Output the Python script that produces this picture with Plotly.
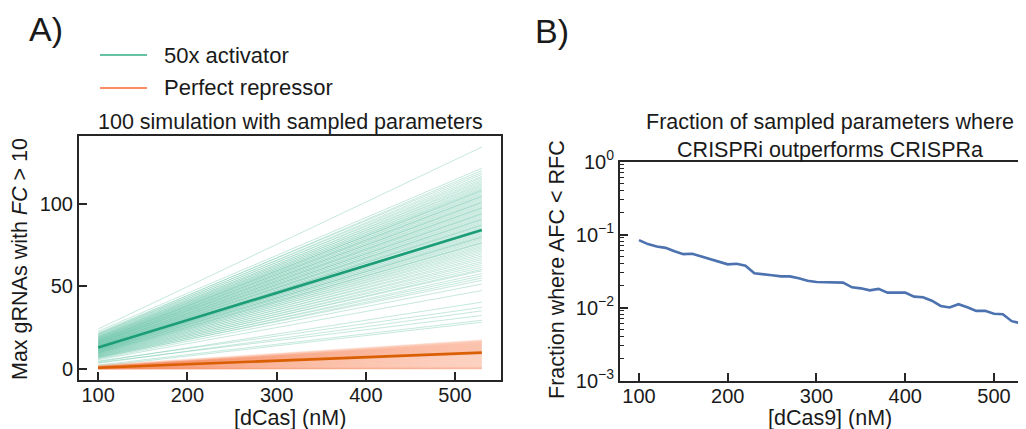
import plotly.graph_objects as go

# The page places the figure 8 px from the window's top-left corner,
# so the figure is sized to fill the rest of the 1026x429 window.
WIN_W, WIN_H = 1026, 429
OFF = 8
W, H = WIN_W - OFF, WIN_H - OFF

# ---------------- data ----------------
dcas_ends = [100, 530]

act_start = [24.2, 22.9, 21.4, 22.0, 20.8, 21.2, 20.1, 20.6, 19.5, 19.9,
             19.0, 19.6, 18.6, 19.1, 18.2, 18.8, 17.9, 18.4, 17.5, 18.0,
             17.2, 17.7, 16.8, 17.3, 16.5, 16.9, 16.1, 16.6, 15.8, 16.2,
             15.5, 15.9, 15.1, 15.6, 14.8, 15.2, 14.5, 14.9, 14.1, 14.6,
             13.8, 14.2, 13.5, 13.9, 13.1, 13.6, 12.8, 13.2, 12.5, 12.9,
             12.1, 12.6, 11.8, 12.2, 11.5, 11.9, 11.1, 11.6, 10.8, 11.2,
             10.4, 10.9, 10.0, 10.5, 9.6, 10.1, 9.3, 9.8, 8.9, 9.4,
             8.5, 9.0, 8.1, 8.6, 7.7, 8.2, 7.3, 7.7, 6.9, 7.4,
             6.5, 6.9, 6.1, 5.6, 4.3, 4.8, 3.4, 3.9, 2.3, 1.6,
             17.0, 16.0, 15.4, 14.4, 13.8, 13.0, 12.3, 11.4, 10.7, 9.9]
act_end = [134.5, 121.6, 120.3, 119.1, 118.0, 116.8, 115.9, 114.9, 114.0, 113.2,
           112.3, 111.6, 110.8, 110.0, 109.3, 108.6, 107.8, 107.1, 106.4, 105.7,
           105.0, 104.3, 103.6, 102.9, 102.2, 101.5, 100.8, 100.1, 99.4, 98.7,
           98.0, 97.3, 96.6, 95.9, 95.2, 94.5, 93.8, 93.1, 92.4, 91.7,
           91.0, 90.3, 89.6, 88.9, 88.2, 87.5, 86.8, 86.1, 85.4, 84.7,
           84.0, 83.3, 82.6, 81.9, 81.2, 80.5, 79.8, 79.1, 78.4, 77.6,
           76.8, 76.0, 75.1, 74.2, 73.4, 72.5, 71.6, 70.6, 69.6, 68.5,
           67.4, 66.3, 65.1, 64.0, 62.8, 61.5, 60.3, 59.5, 57.8, 56.4,
           55.1, 53.7, 51.5, 47.5, 40.5, 37.3, 35.2, 32.4, 29.5, 28.3,
           108.2, 104.7, 101.0, 97.6, 94.0, 90.7, 87.2, 83.7, 80.0, 76.4]

rep_start = [2.4, 1.9, 2.1, 1.7, 1.8, 1.6, 1.2, 1.5, 1.3, 1.4,
             1.2, 1.5, 1.3, 1.1, 1.4, 1.2, 1.4, 1.1, 1.3, 1.2,
             1.0, 1.3, 1.1, 1.2, 1.0, 1.3, 1.1, 0.9, 1.2, 1.0,
             1.1, 0.9, 1.2, 1.0, 0.8, 1.1, 0.9, 1.0, 0.8, 1.1,
             0.9, 0.7, 1.0, 0.8, 1.0, 0.7, 0.9, 0.8, 0.6, 0.9,
             0.8, 0.6, 0.9, 0.7, 0.8, 0.6, 0.7, 0.8, 0.5, 0.7,
             0.6, 0.7, 0.5, 0.6, 0.7, 0.5, 0.6, 0.4, 0.6, 0.5,
             0.4, 0.5, 0.4, 0.5, 0.3, 0.4, 0.4, 0.3, 0.4, 0.3,
             0.3, 0.2, 0.3, 0.2, 0.3, 0.2, 0.2, 0.1, 0.2, 0.1,
             0.1, 0.1, 0.1, 0.0, 0.1, 0.0, 0.0, 0.0, 0.0, 0.0]
rep_end = [17.6, 17.3, 17.1, 16.9, 16.7, 16.5, 16.4, 16.2, 16.0, 15.9,
           15.7, 15.6, 15.4, 15.3, 15.1, 15.0, 14.8, 14.7, 14.5, 14.4,
           14.2, 14.1, 13.9, 13.8, 13.6, 13.5, 13.3, 13.2, 13.0, 12.9,
           12.7, 12.6, 12.4, 12.3, 12.1, 12.0, 11.8, 11.7, 11.5, 11.4,
           11.2, 11.1, 10.9, 10.8, 10.6, 10.5, 10.3, 10.2, 10.0, 9.9,
           9.7, 9.5, 9.3, 9.1, 8.9, 8.7, 8.5, 8.3, 8.1, 7.9,
           7.6, 7.4, 7.2, 7.0, 6.8, 6.5, 6.3, 6.1, 5.9, 5.7,
           5.4, 5.2, 5.0, 4.8, 4.6, 4.3, 4.1, 3.9, 3.7, 3.5,
           3.2, 3.0, 2.8, 2.6, 2.4, 2.1, 1.9, 1.7, 1.5, 1.3,
           1.1, 0.9, 0.8, 0.6, 0.5, 0.4, 0.3, 0.2, 0.1, 0.0]

act_mean = [13.0, 84.2]
rep_mean = [0.7, 9.9]

dcas9 = [100, 110, 120, 130, 140, 150, 160, 170, 180, 190,
         200, 210, 220, 230, 240, 250, 260, 270, 280, 290,
         300, 310, 320, 330, 340, 350, 360, 370, 380, 390,
         400, 410, 420, 430, 440, 450, 460, 470, 480, 490,
         500, 510, 520, 530]
fraction = [0.0836, 0.0738, 0.0686, 0.0656, 0.0591, 0.0538, 0.0545, 0.0501, 0.0461, 0.0428,
            0.0390, 0.0397, 0.0373, 0.0294, 0.0288, 0.0276, 0.0267, 0.0267, 0.0251, 0.0233,
            0.0223, 0.0221, 0.0219, 0.0219, 0.0189, 0.0183, 0.0172, 0.0180, 0.0160, 0.0160,
            0.0160, 0.0141, 0.0138, 0.0124, 0.0105, 0.0100, 0.0111, 0.0101, 0.0090, 0.0090,
            0.0082, 0.0081, 0.0065, 0.0061]

legend_labels = ["50x activator", "Perfect repressor"]

# ---------------- styling ----------------
FONT = "Liberation Sans, Arial, sans-serif"
TXT = "#1a1a1a"
SPINE = "#262626"
ACT_LIGHT = "rgba(102,194,165,0.42)"
REP_LIGHT = "rgba(252,141,98,0.19)"
ACT_DARK = "#1b9e77"
REP_DARK = "#d95f02"
ACT_LEG = "#66c2a5"
REP_LEG = "#fc8d62"
BLUE = "#4c72b0"

fig = go.Figure()

for s, e in zip(act_start, act_end):
    fig.add_trace(go.Scatter(x=dcas_ends, y=[s, e], mode="lines",
                             line=dict(color=ACT_LIGHT, width=0.9),
                             showlegend=False, hoverinfo="skip",
                             xaxis="x", yaxis="y"))
for s, e in zip(rep_start, rep_end):
    fig.add_trace(go.Scatter(x=dcas_ends, y=[s, e], mode="lines",
                             line=dict(color=REP_LIGHT, width=0.9),
                             showlegend=False, hoverinfo="skip",
                             xaxis="x", yaxis="y"))

fig.add_trace(go.Scatter(x=dcas_ends, y=act_mean, mode="lines",
                         line=dict(color=ACT_DARK, width=2.6),
                         showlegend=False, xaxis="x", yaxis="y"))
fig.add_trace(go.Scatter(x=dcas_ends, y=rep_mean, mode="lines",
                         line=dict(color=REP_DARK, width=2.6),
                         showlegend=False, xaxis="x", yaxis="y"))

fig.add_trace(go.Scatter(x=dcas9, y=fraction, mode="lines",
                         line=dict(color=BLUE, width=2.6),
                         showlegend=False, xaxis="x2", yaxis="y2"))

def px_x(p):
    # window pixel -> paper fraction
    return (p - OFF) / W

def px_y(p):
    return 1 - (p - OFF) / H

axis_common = dict(showline=True, linecolor=SPINE, linewidth=2, ticks="inside",
                   ticklen=8, tickwidth=1.5, tickcolor=SPINE, showgrid=False,
                   zeroline=False, automargin=False,
                   tickfont=dict(family=FONT, size=20, color=TXT))

minor_vals = [m * 10 ** k for k in (-3, -2, -1) for m in range(2, 10)]

fig.update_layout(
    width=W, height=H, autosize=False,
    margin=dict(l=0, r=0, t=0, b=0, pad=0),
    paper_bgcolor="white", plot_bgcolor="white",
    font=dict(family=FONT, color=TXT),
    showlegend=False,
    xaxis=dict(domain=[px_x(79), px_x(501)], range=[78.5, 551.5],
               tickvals=[100, 200, 300, 400, 500], mirror=True, anchor="y",
               ticklabelstandoff=-4, **axis_common),
    yaxis=dict(domain=[px_y(380), px_y(136)], range=[-6.7, 141.2],
               tickvals=[0, 50, 100], mirror=True, anchor="x",
               **axis_common),
    xaxis2=dict(domain=[px_x(620), 1.0], range=[78.6, 536.1],
                tickvals=[100, 200, 300, 400, 500], mirror=True, anchor="y2",
                ticklabelstandoff=-4, **axis_common),
    yaxis2=dict(domain=[px_y(380.5), px_y(161.5)], type="log", range=[-3, 0],
                tickvals=[0.001, 0.01, 0.1, 1],
                ticktext=["10<sup>−3</sup>", "10<sup>−2</sup>", "10<sup>−1</sup>", "10<sup>0</sup>"],
                minor=dict(tickvals=minor_vals, ticks="inside", ticklen=4,
                           tickwidth=1, tickcolor=SPINE),
                mirror=False, anchor="x2",
                **axis_common),
)

# legend keys (drawn manually)
shapes = []
for lab_y, col in ((55, ACT_LEG), (88, REP_LEG)):
    shapes.append(dict(type="line", xref="paper", yref="paper",
                       x0=px_x(100), x1=px_x(147), y0=px_y(lab_y), y1=px_y(lab_y),
                       line=dict(color=col, width=2.2)))
fig.update_layout(shapes=shapes)

ann = []
def add_text(text, x, y, size, rot=0, xanchor="center"):
    ann.append(dict(text=text, x=px_x(x), y=px_y(y), xref="paper", yref="paper",
                    showarrow=False, xanchor=xanchor, yanchor="middle",
                    textangle=rot, font=dict(family=FONT, size=size, color=TXT)))

add_text("A)", 27, 29, 34, xanchor="left")
add_text("B)", 533, 31, 34, xanchor="left")
add_text(legend_labels[0], 162, 55, 22, xanchor="left")
add_text(legend_labels[1], 162, 88, 22, xanchor="left")
add_text("100 simulation with sampled parameters", 290, 122, 21.5)
add_text("Fraction of sampled parameters where<br>CRISPRi outperforms CRISPRa", 830, 136, 21.5)
add_text("Max gRNAs with <i>FC</i> > 10", 20, 259, 21.5, rot=-90)
add_text("Fraction where AFC < RFC", 557, 270, 21.5, rot=-90)
add_text("[dCas] (nM)", 290, 418, 21.5)
add_text("[dCas9] (nM)", 830, 418, 21.5)
fig.update_layout(annotations=ann)

fig.write_html("out.html")
